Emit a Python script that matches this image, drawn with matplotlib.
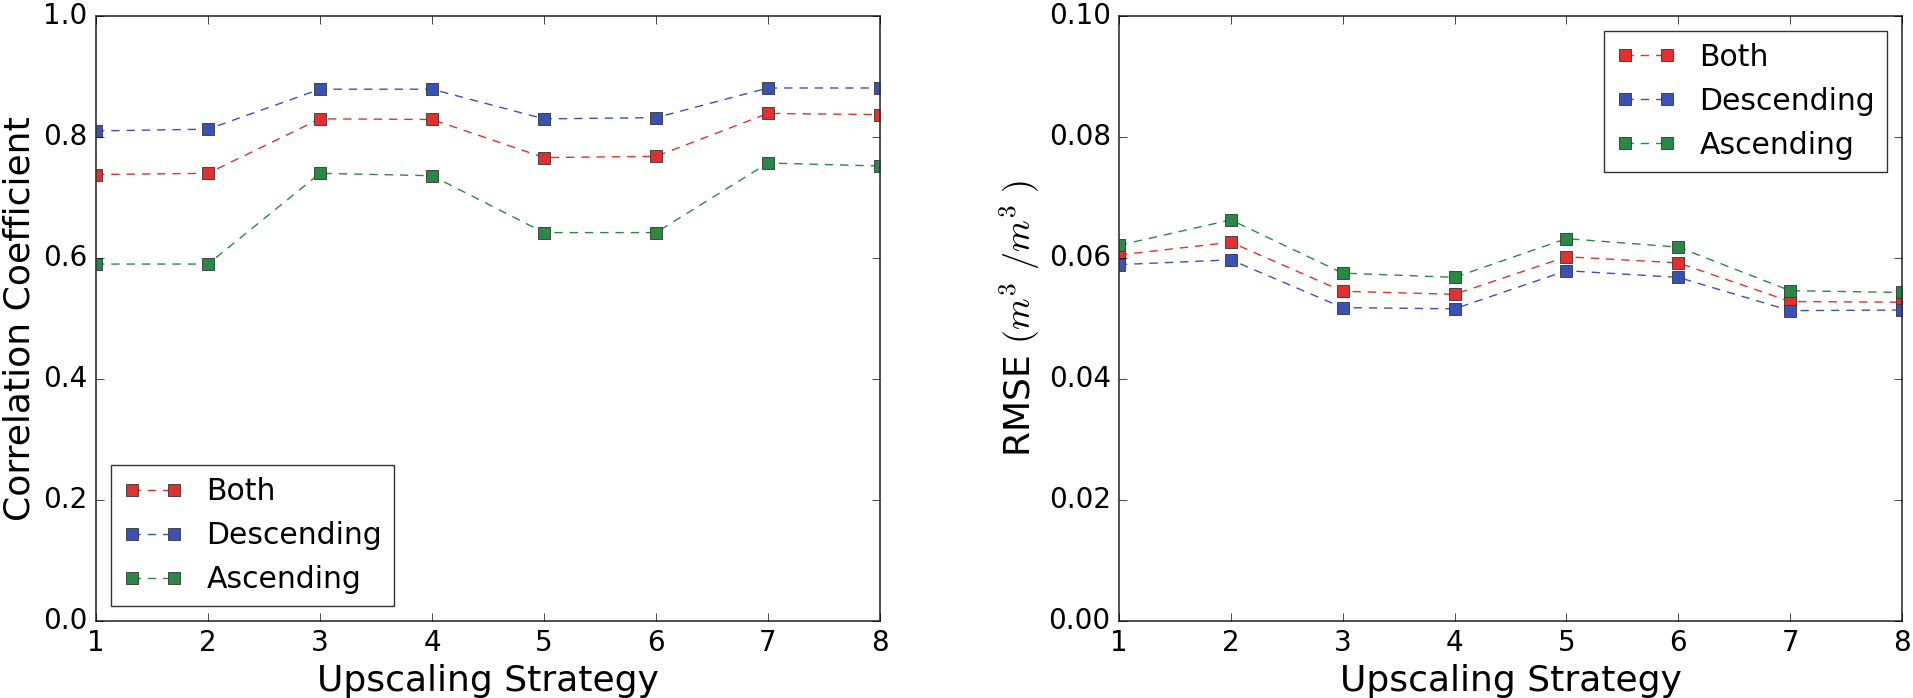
import matplotlib
matplotlib.use("Agg")
import matplotlib.pyplot as plt

plt.style.use("classic")
plt.rcParams["font.family"] = ["DejaVu Sans"]
plt.rcParams["mathtext.fontset"] = "cm"

strategies = [1, 2, 3, 4, 5, 6, 7, 8]
series_names = ["Both", "Descending", "Ascending"]

corr_both = [0.738, 0.740, 0.830, 0.829, 0.766, 0.768, 0.839, 0.837]
corr_desc = [0.810, 0.813, 0.879, 0.879, 0.830, 0.832, 0.881, 0.881]
corr_asc = [0.590, 0.590, 0.740, 0.736, 0.642, 0.642, 0.757, 0.752]

rmse_both = [0.0605, 0.0626, 0.0545, 0.0540, 0.0602, 0.0592, 0.0528, 0.0527]
rmse_desc = [0.0589, 0.0597, 0.0518, 0.0516, 0.0579, 0.0568, 0.0513, 0.0514]
rmse_asc = [0.0621, 0.0663, 0.0575, 0.0568, 0.0632, 0.0618, 0.0546, 0.0543]

colors = ["#e3302e", "#3a52b4", "#2a8845"]

W, H = 1913, 698
fig = plt.figure(figsize=(W / 100, H / 100), dpi=100, facecolor="white")
bottom = 1 - 621 / H
top = 1 - 16 / H
ax1 = fig.add_axes([96 / W, bottom, (880 - 96) / W, top - bottom])
ax2 = fig.add_axes([1119 / W, bottom, (1902 - 1119) / W, top - bottom])

def draw(ax, data):
    for vals, name, c in zip(data, series_names, colors):
        ax.plot(strategies, vals, linestyle="--", dashes=(6, 5), color=c,
                linewidth=1.0, marker="s", markersize=8, markerfacecolor=c,
                markeredgecolor="#333333", markeredgewidth=0.6, label=name)
    ax.set_xlim(1, 8)
    ax.set_xticks(strategies)
    ax.set_xlabel("Upscaling Strategy", fontsize=26)
    ax.tick_params(labelsize=20, length=6, direction="in", top=True, right=True, pad=6)
    for s in ax.spines.values():
        s.set_linewidth(1.2)
        s.set_color("#333333")

draw(ax1, [corr_both, corr_desc, corr_asc])
ax1.set_ylim(0.0, 1.0)
ax1.set_yticks([0.0, 0.2, 0.4, 0.6, 0.8, 1.0])
ax1.set_ylabel("Correlation Coefficient", fontsize=26)
leg1 = ax1.legend(loc="lower left", fontsize=21.5, numpoints=2, fancybox=False,
                  borderaxespad=0.5)
leg1.get_frame().set_edgecolor("#333333")

draw(ax2, [rmse_both, rmse_desc, rmse_asc])
ax2.set_ylim(0.0, 0.10)
ax2.set_yticks([0.0, 0.02, 0.04, 0.06, 0.08, 0.10])
ax2.set_yticklabels(["0.00", "0.02", "0.04", "0.06", "0.08", "0.10"])
ax2.set_ylabel(r"RMSE $(m^3\ /m^3\ )$", fontsize=26)
leg2 = ax2.legend(loc="upper right", fontsize=21.5, numpoints=2, fancybox=False,
                  borderaxespad=0.5)
leg2.get_frame().set_edgecolor("#333333")

fig.savefig("out.png", dpi=100, facecolor="white")
